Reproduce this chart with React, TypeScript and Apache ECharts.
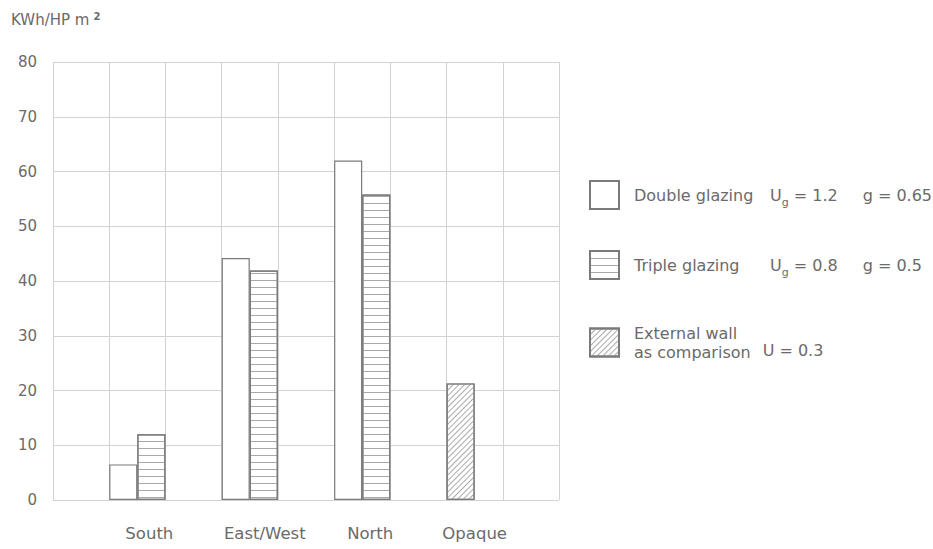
import React, { useEffect, useRef } from "react";
import * as echarts from "echarts";

// ---- data ----
const categories = ["South", "East/West", "North", "Opaque"];
const doubleGlazing: (number | null)[] = [6.5, 44.2, 62, null];
const tripleGlazing: (number | null)[] = [12, 41.9, 55.8, null];
const externalWall: (number | null)[] = [null, null, null, 21.3];
const yMin = 0;
const yMax = 80;
const yInterval = 10;
const gridColumns = 9;
const unitLabel = "KWh/HP m";
const unitSup = "2";
const seriesNames = ["Double glazing", "Triple glazing", "External wall"];

// label nudges (style only)
const labelShift = [12, 15, 8, 0];

const FONT = "'DejaVu Sans', 'Liberation Sans', sans-serif";
const TEXT = "#6a6a6a";
const GRIDLINE = "#d2d2d2";
const BORDER = "#7a7a7a";

export default function App() {
  const ref = useRef<HTMLDivElement>(null);

  useEffect(() => {
    if (!ref.current) return;
    const chart = echarts.init(ref.current, undefined, { renderer: "svg" });

    const plotLeft = 53;
    const plotRight = 374;
    const plotTop = 62;
    const plotBottom = 49;
    const plotWidth = 933 - plotLeft - plotRight;
    const unit = plotWidth / gridColumns;

    const legendFormatter = (name: string) => {
      if (name === seriesNames[0])
        return "{t|Double glazing}{u|U}{sub|g}{e| = 1.2}{g|g = 0.65}";
      if (name === seriesNames[1])
        return "{t|Triple glazing}{u|U}{sub|g}{e| = 0.8}{g|g = 0.5}";
      return "{t2|External wall}\n{t2|as comparison}{w|U = 0.3}";
    };

    const catRich: Record<string, any> = {};
    labelShift.forEach((s, i) => {
      catRich["c" + i] = {
        fontFamily: FONT,
        fontSize: 16.5,
        color: TEXT,
        padding: [0, 0, 0, s * 2],
      };
    });

    const legendText = {
      fontFamily: FONT,
      fontSize: 16,
      color: TEXT,
      padding: [0, 0, 0, 10],
      rich: {
        t: { fontFamily: FONT, fontSize: 16, color: TEXT, width: 136 },
        t2: { fontFamily: FONT, fontSize: 16, color: TEXT, lineHeight: 19 },
        u: { fontFamily: FONT, fontSize: 16, color: TEXT },
        sub: { fontFamily: FONT, fontSize: 11, color: TEXT, verticalAlign: "bottom", lineHeight: 26 },
        e: { fontFamily: FONT, fontSize: 16, color: TEXT, width: 74 },
        g: { fontFamily: FONT, fontSize: 16, color: TEXT },
        w: { fontFamily: FONT, fontSize: 16, color: TEXT, lineHeight: 7, verticalAlign: "top", padding: [0, 0, 0, 12] },
      },
    };

    const legendBase = {
      orient: "vertical" as const,
      left: 584,
      itemWidth: 29,
      itemHeight: 28,
      itemGap: 40,
      icon: "rect",
      selectedMode: false,
      formatter: legendFormatter,
      textStyle: legendText,
    };

    const option: echarts.EChartsOption = {
      animation: false,
      backgroundColor: "#fff",
      textStyle: { fontFamily: FONT },
      title: {
        left: 6,
        top: 6,
        text: `{a|${unitLabel}}{s|${unitSup}}`,
        textStyle: {
          rich: {
            a: { fontFamily: FONT, fontSize: 15, color: TEXT, fontWeight: "normal" },
            s: { fontFamily: FONT, fontSize: 10, color: TEXT, verticalAlign: "top", padding: [0, 0, 8, 4] },
          },
        },
      },
      grid: [
        { left: plotLeft, right: plotRight, top: plotTop, bottom: plotBottom },
        {
          left: plotLeft + unit / 2,
          right: plotRight + unit / 2,
          top: plotTop,
          bottom: plotBottom,
        },
      ],
      xAxis: [
        {
          type: "value",
          gridIndex: 0,
          min: 0,
          max: gridColumns,
          interval: 1,
          axisLine: { show: false },
          axisTick: { show: false },
          axisLabel: { show: false },
          splitLine: { show: true, lineStyle: { color: GRIDLINE, width: 1 } },
        },
        {
          type: "category",
          gridIndex: 1,
          data: categories,
          boundaryGap: true,
          axisLine: { show: false },
          axisTick: { show: false },
          splitLine: { show: false },
          axisLabel: {
            interval: 0,
            hideOverlap: false,
            margin: 25,
            fontFamily: FONT,
            fontSize: 16.5,
            color: TEXT,
            formatter: (v: string, i: number) => `{c${i}|${v}}`,
            rich: catRich,
          },
        },
      ],
      yAxis: [
        {
          type: "value",
          gridIndex: 0,
          min: yMin,
          max: yMax,
          interval: yInterval,
          axisLine: { show: false },
          axisTick: { show: false },
          axisLabel: { margin: 16, fontFamily: FONT, fontSize: 15, color: TEXT },
          splitLine: { show: true, lineStyle: { color: GRIDLINE, width: 1 } },
        },
        {
          type: "value",
          gridIndex: 1,
          min: yMin,
          max: yMax,
          interval: yInterval,
          show: false,
          splitLine: { show: false },
        },
      ],
      legend: [
        { ...legendBase, top: 175, data: [seriesNames[0], seriesNames[1]] },
        { ...legendBase, top: 320, data: [seriesNames[2]] },
      ],
      series: [
        {
          name: seriesNames[0],
          type: "bar",
          xAxisIndex: 1,
          yAxisIndex: 1,
          stack: "front",
          data: doubleGlazing,
          barWidth: "25%",
          barGap: "0%",
          itemStyle: { color: "#fff", borderColor: BORDER, borderWidth: 1.2 },
        },
        {
          name: seriesNames[1],
          type: "bar",
          xAxisIndex: 1,
          yAxisIndex: 1,
          stack: "back",
          data: tripleGlazing,
          barWidth: "25%",
          barGap: "0%",
          itemStyle: {
            color: "#fff",
            borderColor: BORDER,
            borderWidth: 1.2,
            decal: {
              symbol: "rect",
              symbolSize: 1,
              color: "#a8a8a8",
              backgroundColor: "#fff",
              dashArrayX: [1, 0],
              dashArrayY: [1, 6],
              rotation: 0,
            },
          },
        },
        {
          name: seriesNames[2],
          type: "bar",
          xAxisIndex: 1,
          yAxisIndex: 1,
          stack: "front",
          data: externalWall,
          barWidth: "25%",
          barGap: "0%",
          itemStyle: {
            color: "#fff",
            borderColor: BORDER,
            borderWidth: 1.2,
            decal: {
              symbol: "rect",
              symbolSize: 1,
              color: "#aaaaaa",
              backgroundColor: "#f4f4f4",
              dashArrayX: [1, 0],
              dashArrayY: [1, 3],
              rotation: -Math.PI / 4,
            },
          },
        },
      ],
    };

    chart.setOption(option);
    return () => chart.dispose();
  }, []);

  return (
    <div
      ref={ref}
      style={{ position: "fixed", left: 0, top: 0, width: 933, height: 549, background: "#fff" }}
    />
  );
}
